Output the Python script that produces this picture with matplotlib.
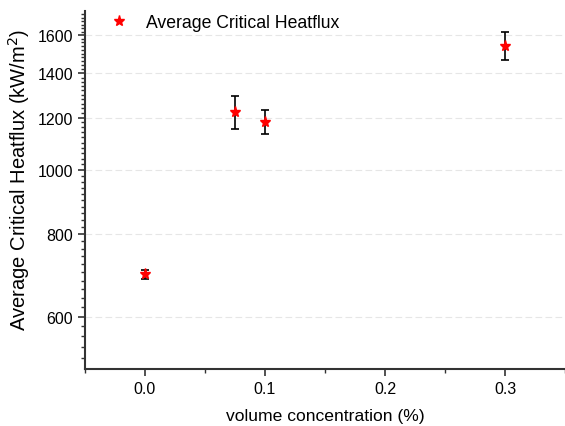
import numpy as np
import matplotlib.pyplot as plt
from matplotlib.ticker import FixedLocator, NullFormatter, MultipleLocator

plt.rcParams['font.family'] = ['Liberation Sans', 'DejaVu Sans']

# data
conc = [0.0, 0.075, 0.1, 0.3]
chf = [695, 1223, 1182, 1540]
err_low = [10, 70, 48, 75]
err_high = [10, 70, 50, 77]
yticks = [600, 800, 1000, 1200, 1400, 1600]

fig = plt.figure(figsize=(5.65, 4.27), dpi=100)
ax = fig.add_axes([85 / 565, 57 / 427, 480 / 565, 358 / 427])

ax.errorbar(conc, chf, yerr=[err_low, err_high], fmt='none', ecolor='black',
            elinewidth=1.2, capsize=3, capthick=1.2, zorder=2)
ax.plot(conc, chf, '*', color='red', markersize=8, linestyle='none',
        label='Average Critical Heatflux', zorder=3)

ax.set_yscale('log')
ax.set_ylim(500, 1740)
ax.set_xlim(-0.05, 0.35)
ax.yaxis.set_major_locator(FixedLocator(yticks))
ax.yaxis.set_major_formatter(plt.FuncFormatter(lambda v, p: f'{v:.0f}'))
ax.yaxis.set_minor_locator(FixedLocator(np.arange(520, 1740, 20)))
ax.yaxis.set_minor_formatter(NullFormatter())
ax.xaxis.set_major_locator(MultipleLocator(0.1))
ax.xaxis.set_minor_locator(MultipleLocator(0.05))
ax.xaxis.set_major_formatter(plt.FuncFormatter(lambda v, p: f'{v:.1f}'))

for s in ['top', 'right']:
    ax.spines[s].set_visible(False)
for s in ['left', 'bottom']:
    ax.spines[s].set_linewidth(1.5)
    ax.spines[s].set_color('#333333')

ax.tick_params(which='major', length=5, width=1.2, labelsize=11.5, color='#333333')
ax.tick_params(which='minor', length=3, width=1, color='#333333')
ax.grid(axis='y', which='major', linestyle=(0, (6, 3)), color='#e6e6e6', linewidth=0.8)

ax.set_xlabel('volume concentration (%)', fontsize=12.6)
ax.xaxis.set_label_coords(0.5, -0.11)
ax.set_ylabel('Average Critical Heatflux (kW/m$^2$)', fontsize=14.5)
ax.yaxis.set_label_coords(-0.11, 0.53)

ax.legend(loc='upper left', frameon=False, fontsize=12.7, handletextpad=0.8,
          handlelength=1.5, bbox_to_anchor=(0.01, 1.035))

fig.savefig('out.png', dpi=100)
